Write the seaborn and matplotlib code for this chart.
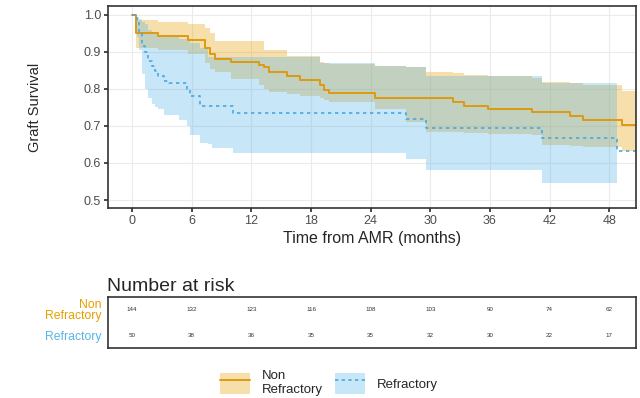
import numpy as np
import pandas as pd
import seaborn as sns
import matplotlib.pyplot as plt
from matplotlib.patches import Patch
from matplotlib.lines import Line2D

# Non refractory (Kaplan-Meier steps)
non_time = [0, 0.4, 2.6, 5.6, 7.3, 7.8, 8.3, 10.0, 12.8, 13.3, 13.8, 15.6, 16.9,
            18.9, 19.3, 19.8, 24.4, 27.6, 29.6, 32.3, 33.4, 35.8, 40.2, 41.2,
            44.0, 45.4, 49.3, 50.7]
non_surv = [1.0, 0.951, 0.944, 0.931, 0.91, 0.893, 0.880, 0.872, 0.865, 0.858, 0.846, 0.836, 0.824,
            0.81, 0.798, 0.790, 0.775, 0.775, 0.775, 0.764, 0.753, 0.745, 0.737, 0.737,
            0.727, 0.716, 0.703, 0.703]
non_low = [1.0, 0.91, 0.905, 0.895, 0.87, 0.855, 0.845, 0.827, 0.81, 0.80, 0.791, 0.785, 0.78,
           0.775, 0.77, 0.765, 0.747, 0.711, 0.685, 0.683, 0.68, 0.678, 0.675, 0.648,
           0.646, 0.644, 0.632, 0.632]
non_up = [1.0, 0.985, 0.982, 0.975, 0.965, 0.95, 0.93, 0.93, 0.93, 0.905, 0.905, 0.89, 0.89,
          0.872, 0.87, 0.868, 0.862, 0.858, 0.845, 0.843, 0.838, 0.835, 0.83, 0.82,
          0.815, 0.81, 0.795, 0.795]

# Refractory
ref_time = [0, 0.5, 0.7, 1.0, 1.3, 1.6, 2.0, 2.3, 2.6, 3.2, 3.7, 4.7, 5.5, 5.8, 6.8,
            7.6, 8.0, 10.2, 18.9, 24.4, 27.6, 29.6, 41.2, 48.8, 50.7]
ref_surv = [1.0, 0.98, 0.955, 0.915, 0.90, 0.875, 0.862, 0.849, 0.836, 0.822, 0.816, 0.816, 0.80,
            0.78, 0.755, 0.755, 0.755, 0.736, 0.736, 0.736, 0.72, 0.695, 0.668, 0.631, 0.631]
ref_low = [1.0, 0.94, 0.905, 0.84, 0.80, 0.775, 0.76, 0.752, 0.745, 0.73, 0.73, 0.715, 0.70,
           0.675, 0.655, 0.65, 0.64, 0.627, 0.627, 0.627, 0.61, 0.58, 0.547, None, None]
ref_up = [1.0, 0.995, 0.99, 0.98, 0.975, 0.96, 0.955, 0.95, 0.945, 0.94, 0.94, 0.935, 0.93,
          0.925, 0.91, 0.885, 0.885, 0.885, 0.869, 0.862, 0.858, 0.836, 0.815, None, None]

# Number at risk
risk_times = [0, 6, 12, 18, 24, 30, 36, 42, 48]
risk_non = [144, 132, 123, 116, 108, 103, 90, 74, 62]
risk_ref = [50, 38, 36, 35, 35, 32, 30, 22, 17]

orange = '#E69F00'
blue = '#56B4E9'

sns.set_theme(style='whitegrid')
plt.rcParams['font.family'] = ['Liberation Sans', 'DejaVu Sans']

non = pd.DataFrame({'time': non_time, 'surv': non_surv, 'low': non_low, 'up': non_up})
ref = pd.DataFrame({'time': ref_time, 'surv': ref_surv, 'low': ref_low, 'up': ref_up}, dtype=float)
ref_band = ref[ref['time'] <= 48.8].ffill()

fig = plt.figure(figsize=(6.4, 3.98), dpi=100)
ax = fig.add_axes([0.169, 0.477, 0.825, 0.508])
ax_r = fig.add_axes([0.169, 0.126, 0.825, 0.128])

# bandas de confianza
ax.fill_between(non['time'], non['low'], non['up'], step='post', color=orange, alpha=0.33, lw=0)
ax.fill_between(ref_band['time'], ref_band['low'], ref_band['up'], step='post', color=blue, alpha=0.33, lw=0)

sns.lineplot(data=non, x='time', y='surv', ax=ax, color='#DE9A10', lw=1.4,
             drawstyle='steps-post', sort=False, estimator=None)
sns.lineplot(data=ref, x='time', y='surv', ax=ax, color='#4AA8DE', lw=1.2,
             linestyle=(0, (2.0, 2.2)), drawstyle='steps-post', sort=False, estimator=None)

ax.set_xlim(-2.4, 50.7)
ax.set_ylim(0.478, 1.024)
ax.set_xticks(risk_times)
ax.set_yticks([0.5, 0.6, 0.7, 0.8, 0.9, 1.0])
ax.set_yticklabels(['0.5', '0.6', '0.7', '0.8', '0.9', '1.0'])
ax.set_xlabel('Time from AMR (months)', fontsize=11.5, labelpad=3)
ax.set_ylabel('Graft Survival', fontsize=10.5, labelpad=30)
ax.tick_params(axis='both', labelsize=9, labelcolor='#4d4d4d', length=3, color='#333333',
               bottom=True, left=True, pad=2)
ax.grid(color='#ebebeb', lw=0.8)
for s in ax.spines.values():
    s.set_color('#333333')
    s.set_linewidth(1.2)

# tabla de riesgo
for t, n1, n2 in zip(risk_times, risk_non, risk_ref):
    ax_r.text(t, 1, str(n1), ha='center', va='center', fontsize=4.5, color='#333333')
    ax_r.text(t, 0, str(n2), ha='center', va='center', fontsize=4.5, color='#333333')
ax_r.set_xlim(-2.4, 50.7)
ax_r.set_ylim(-0.5, 1.5)
ax_r.set_xticks([])
ax_r.set_yticks([1, 0])
ax_r.set_yticklabels(['Non\nRefractory', 'Refractory'], fontsize=8.8, linespacing=0.9)
ax_r.tick_params(axis='y', length=0, pad=5)
lab_non, lab_ref = ax_r.get_yticklabels()
lab_non.set_color(orange)
lab_non.set_multialignment('right')
lab_ref.set_color(blue)
ax_r.grid(False)
ax_r.set_title('Number at risk', loc='left', fontsize=14, pad=4, x=-0.003)
for s in ax_r.spines.values():
    s.set_color('#333333')
    s.set_linewidth(1.2)

# leyenda
h_non = (Patch(facecolor=orange, alpha=0.33, lw=0), Line2D([], [], color='#DE9A10', lw=1.4))
h_ref = (Patch(facecolor=blue, alpha=0.33, lw=0), Line2D([], [], color='#4AA8DE', lw=1.2, linestyle=(0, (2, 2))))
fig.legend(handles=[h_non, h_ref], labels=['Non\nRefractory', 'Refractory'],
           loc='lower center', bbox_to_anchor=(0.514, -0.025), ncol=2, frameon=False,
           fontsize=9.5, handlelength=2.3, handleheight=2.1, handletextpad=0.9,
           columnspacing=0.85)

fig.savefig('out.png', dpi=100)
